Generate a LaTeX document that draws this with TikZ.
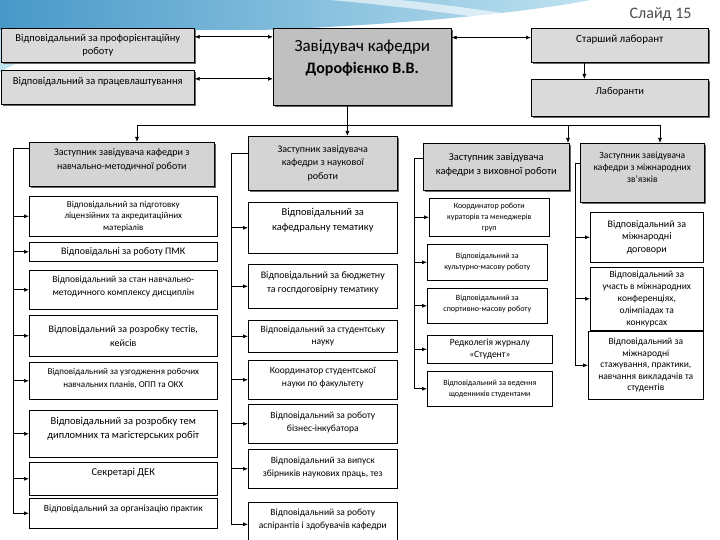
\documentclass[tikz,border=0pt]{standalone}
\usepackage{fontspec}
\setmainfont{Carlito}
\usetikzlibrary{arrows.meta,shadows}
\definecolor{boxgray}{RGB}{218,218,218}
\definecolor{headgray}{RGB}{192,192,192}
\definecolor{depgray}{RGB}{212,212,212}
\definecolor{swoosh}{RGB}{72,152,200}
\definecolor{swooshlight}{RGB}{190,226,240}
\newcommand{\pushup}[1]{\rule[-#1]{0pt}{#1}}

\begin{document}
\begin{tikzpicture}[x=1pt, y=-1pt,
      >={Latex[length=5pt,width=4pt]},
      every node/.append style={align=center},
      fs/.style 2 args={font=\fontsize{#1}{#2}\selectfont},
      wbox/.style={draw, fill=white, anchor=north west, inner sep=1pt, line width=0.6pt},
      gbox/.style={wbox, fill=boxgray, drop shadow={shadow xshift=2pt, shadow yshift=-2pt, fill=black!60, opacity=1}},
      dbox/.style={gbox, fill=depgray},
      hbox/.style={gbox, fill=headgray},
      link/.style={line width=0.7pt}]

  \useasboundingbox (0,0) rectangle (720,540);
  \fill[white] (0,0) rectangle (720,540);
  % background swoosh
  \shade[left color=swoosh, right color=swooshlight] (0,0) -- (590,0) .. controls (520,14) and (380,26) .. (260,30) -- (0,30) -- cycle;
  \fill[white, opacity=0.6] (330,0) .. controls (420,8) and (500,20) .. (560,30) -- (600,30) .. controls (520,14) and (440,4) .. (400,0) -- cycle;
  \shade[left color=swooshlight, right color=white] (0,30) -- (120,30) .. controls (60,45) and (20,60) .. (0,72) -- cycle;
  \node[fs={16}{18}, text=black!70, anchor=east] (slide) at (695,14) {Слайд 15};

  % top row
  \node[gbox, minimum width=193, minimum height=34, fs={10.5}{13}] (prof) at (1,28) {Відповідальний за профорієнтаційну\\роботу};
  \node[gbox, minimum width=193, minimum height=34, fs={10.5}{13}] (prac) at (1,70) {Відповідальний за працевлаштування\pushup{12pt}};
  \node[hbox, minimum width=178, minimum height=77, fs={17}{22}] (head) at (273,28) {Завідувач кафедри\\{\bfseries\fontsize{16}{20}\selectfont Дорофієнко В.В.}\pushup{20pt}};
  \node[gbox, minimum width=177, minimum height=34, fs={11}{13}] (star) at (531,28) {Старший лаборант\pushup{14pt}};
  \node[gbox, minimum width=177, minimum height=37, fs={10.5}{13}] (lab) at (531,79) {Лаборанти\pushup{14pt}};

  % deputies
  \node[dbox, minimum width=185, minimum height=44, fs={10}{13.5}] (dep1) at (29,142) {Заступник завідувача кафедри з\\навчально-методичної роботи\pushup{10pt}};
  \node[dbox, minimum width=149, minimum height=54, fs={10}{13.5}] (dep2) at (248,136) {Заступник завідувача\\кафедри з наукової\\роботи};
  \node[dbox, minimum width=146, minimum height=47, fs={10.5}{14}] (dep3) at (423,143) {Заступник завідувача\\кафедри з виховної роботи\pushup{6pt}};
  \node[dbox, minimum width=124, minimum height=59, fs={9.5}{12}] (dep4) at (580,143) {Заступник завідувача\\кафедри з міжнародних\\зв’язків\pushup{12pt}};

  % educational work
  \node[wbox, minimum width=188, minimum height=40, fs={9}{11.5}] (l1) at (29,196) {Відповідальний за підготовку\\ліцензійних та акредитаційних\\матеріалів};
  \node[wbox, minimum width=188, minimum height=19, fs={10}{12}] (l2) at (29,242) {Відповідальні за роботу ПМК};
  \node[wbox, minimum width=188, minimum height=39, fs={9.5}{13}] (l3) at (29,270) {Відповідальний за стан навчально-\\методичного комплексу дисциплін\pushup{8pt}};
  \node[wbox, minimum width=188, minimum height=41, fs={10}{14}] (l4) at (29,315) {Відповідальний за розробку тестів,\\кейсів};
  \node[wbox, minimum width=188, minimum height=37, fs={9}{13}] (l5) at (29,362) {Відповідальний за узгодження робочих\\навчальних планів, ОПП та ОКХ\pushup{6pt}};
  \node[wbox, minimum width=188, minimum height=47, fs={10.5}{14}] (l6) at (29,410) {Відповідальний за розробку тем\\дипломних та магістерських робіт\pushup{12pt}};
  \node[wbox, minimum width=188, minimum height=33, fs={10.5}{13}] (l7) at (29,462) {Секретарі ДЕК\pushup{13pt}};
  \node[wbox, minimum width=188, minimum height=30, fs={9.5}{12}] (l8) at (29,498) {Відповідальний за організацію практик\pushup{10pt}};

  % research
  \node[wbox, minimum width=149, minimum height=51, fs={10.5}{15}] (s1) at (248,202) {Відповідальний за\\кафедральну тематику\pushup{16pt}};
  \node[wbox, minimum width=149, minimum height=44, fs={10}{14}] (s2) at (248,264) {Відповідальний за бюджетну\\та госпдоговірну тематику\pushup{8pt}};
  \node[wbox, minimum width=149, minimum height=32, fs={9.5}{12}] (s3) at (248,320) {Відповідальний за студентську\\науку};
  \node[wbox, minimum width=149, minimum height=39, fs={9.5}{13}] (s4) at (248,360) {Координатор студентської\\науки по факультету\pushup{6pt}};
  \node[wbox, minimum width=149, minimum height=39, fs={9.5}{13}] (s5) at (248,404) {Відповідальний за роботу\\бізнес-інкубатора\pushup{4pt}};
  \node[wbox, minimum width=149, minimum height=39, fs={9.5}{13}] (s6) at (248,449) {Відповідальний за випуск\\збірників наукових праць, тез\pushup{4pt}};
  \node[wbox, minimum width=149, minimum height=44, fs={9.5}{13}] (s7) at (248,502) {Відповідальний за роботу\\аспірантів і здобувачів кафедри\pushup{12pt}};

  % upbringing
  \node[wbox, minimum width=120, minimum height=38, fs={8}{11}] (v1) at (429,198) {Координатор роботи\\кураторів та менеджерів\\груп};
  \node[wbox, minimum width=120, minimum height=36, fs={8}{11}] (v2) at (427,244) {Відповідальний за\\культурно-масову роботу};
  \node[wbox, minimum width=120, minimum height=35, fs={8}{11}] (v3) at (427,288) {Відповідальний за\\спортивно-масову роботу\pushup{5pt}};
  \node[wbox, minimum width=125, minimum height=28, fs={9.5}{12}] (v4) at (427,335) {Редколегія журналу\\«Студент»};
  \node[wbox, minimum width=125, minimum height=35, fs={8}{11}] (v5) at (427,371) {Відповідальний за ведення\\щоденників студентами};

  % international
  \node[wbox, minimum width=113, minimum height=50, fs={10}{12.5}] (i1) at (590,212) {Відповідальний за\\міжнародні\\договори};
  \node[wbox, minimum width=113, minimum height=63, fs={9.5}{12}] (i2) at (590,267) {Відповідальний за\\участь в міжнародних\\конференціях,\\олімпіадах та\\конкурсах};
  \node[wbox, minimum width=115, minimum height=68, fs={9.5}{11.5}] (i3) at (588,331) {Відповідальний за\\міжнародні\\стажування, практики,\\навчання викладачів та\\студентів};

  % top row links
  \draw[<->, link] (prof.5) -- (prof.5 -| head.west);
  \draw[<->, link] (prac.5) -- (prac.5 -| head.west);
  \draw[<->, link] (star.175) -- (star.175 -| head.east);
  \draw[->, link] (star.206) -- (star.206 |- lab.north);

  % bus to deputies
  \coordinate (b1) at (137,125);
  \coordinate (b3) at (568,125);
  \coordinate (b4) at (660,125);
  \draw[link] (b1) -- (b4);
  \draw[->, link] (head.249) -- (head.249 |- dep2.north);
  \foreach \d/\b in {dep1/b1, dep3/b3, dep4/b4}
    \draw[->, link] (\b) -- (\b |- \d.north);

  % trunks
  \coordinate (t1) at (13,0);
  \coordinate (t2) at (231,0);
  \coordinate (t3) at (414,0);
  \coordinate (t4) at (575,0);
  \draw[->, link] ([yshift=-6pt]dep1.north west) -| (t1 |- l8.west) -- (l8.west);
  \foreach \i in {1,...,7}
    \draw[->, link] (t1 |- l\i.west) -- (l\i.west);
  \draw[->, link] ([yshift=-17pt]dep2.north west) -| (t2 |- s7.west) -- (s7.west);
  \foreach \i in {1,...,6}
    \draw[->, link] (t2 |- s\i.west) -- (s\i.west);
  \draw[->, link] ([yshift=-15pt]dep3.north west) -| (t3 |- v5.west) -- (v5.west);
  \foreach \i in {1,...,4}
    \draw[->, link] (t3 |- v\i.west) -- (v\i.west);
  \draw[->, link] ([yshift=-20pt]dep4.north west) -| (t4 |- i3.west) -- (i3.west);
  \foreach \i in {1,2}
    \draw[->, link] (t4 |- i\i.west) -- (i\i.west);
\end{tikzpicture}
\end{document}
